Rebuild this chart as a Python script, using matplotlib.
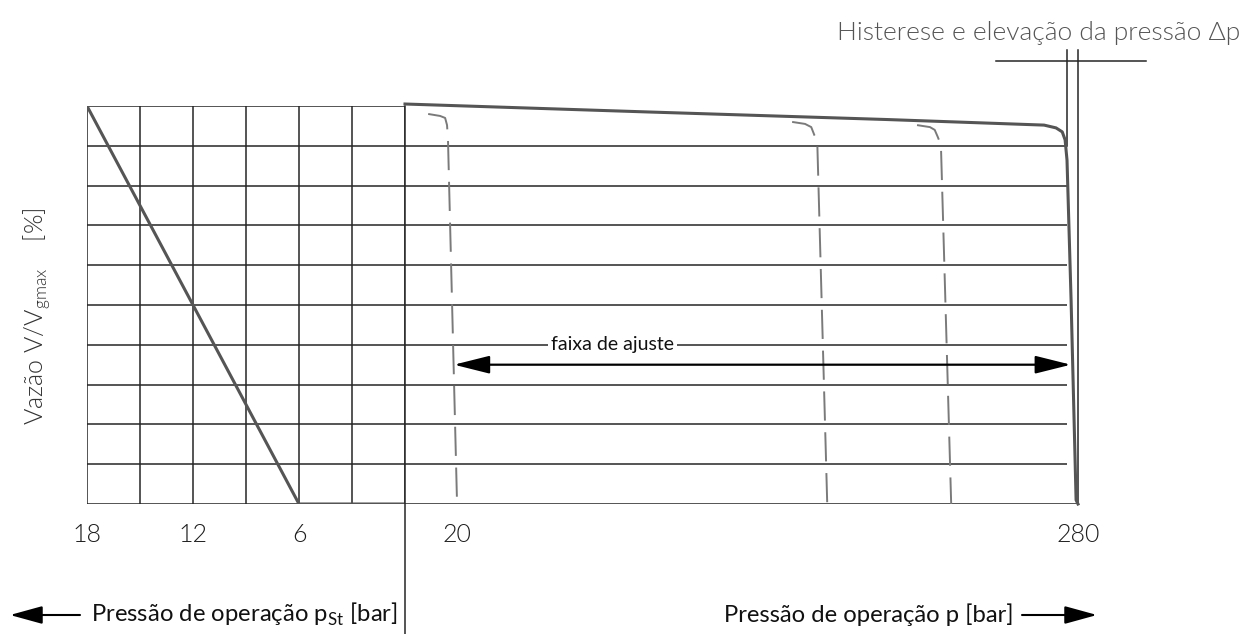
import matplotlib
matplotlib.use("Agg")
import matplotlib.pyplot as plt
from matplotlib.patches import FancyArrowPatch

plt.rcParams["font.family"] = ["Lato", "DejaVu Sans"]

# === Data ===
# left part: control pressure p_St [bar] vs flow [%]
pst_vals = [18, 6, 0]
pst_flow = [100, 0, 0]
pst_grid = [18, 15, 12, 9, 6, 3, 0]
pst_labels = ["18", "", "12", "", "6", "", ""]

# right part: operating pressure p [bar] vs flow [%]
p_curve = [-1.8, 100, 200, 265.8, 270.8, 273.4, 274.6, 275.4, 277.1, 279.2, 280]
flow_curve = [100.5, 98.5, 96.6, 95.2, 94.5, 93.5, 91.5, 86.4, 51.3, 1, 0]

dash1_p = [7.9, 12.9, 15.0, 15.8, 16.2, 20]
dash1_f = [98.0, 97.5, 97.0, 95.2, 91.5, 0]
dash2_p = [160.3, 165.7, 168.3, 169.6, 170.8, 175]
dash2_f = [96.0, 95.5, 94.7, 92.7, 91.5, 0]
dash3_p = [212.6, 218.0, 220.0, 221.3, 222.6, 226.9]
dash3_f = [95.2, 94.7, 94.0, 92.2, 90.2, 0]

p_ticks = [20, 280]
p_labels = ["20", "280"]
flow_levels = [0, 10, 20, 30, 40, 50, 60, 70, 80, 90, 100]

range_p = [18.7, 277]   # faixa de ajuste
range_flow = 35
hyst_p = [275.4, 280]

GRID = "#262626"
CURVE = "#555555"
DASH = "#7a7a7a"
TXT = "#1e1e1e"
LIGHT = 300

W, H = 1252, 634
fig = plt.figure(figsize=(W / 100, H / 100), dpi=100)

# === Left panel ===
axl = fig.add_axes([87 / W, (H - 504) / H, 318 / W, 398 / H])
axl.set_xlim(18, 0)
axl.set_ylim(0, 100)
for v in pst_grid:
    axl.axvline(v, color=GRID, lw=1.1, zorder=1)
for f in flow_levels:
    axl.axhline(f, color=GRID, lw=1.1, zorder=1)
axl.plot(pst_vals, pst_flow, color=CURVE, lw=2.2, zorder=3, solid_capstyle="butt")
axl.set_xticks(pst_grid)
axl.set_xticklabels(pst_labels, fontsize=18, color=TXT, fontweight=LIGHT)
axl.set_yticks([])
axl.tick_params(axis="x", length=0, pad=14)
for s in axl.spines.values():
    s.set_visible(False)

# === Right panel ===
p_lo, p_hi = -1.8, 280
axr = fig.add_axes([405 / W, (H - 504) / H, 673 / W, 398 / H])
axr.set_xlim(p_lo, p_hi)
axr.set_ylim(0, 100)
for s in axr.spines.values():
    s.set_visible(False)
axr.hlines(flow_levels[1:-1], p_lo, hyst_p[0], color=GRID, lw=1.1, zorder=1)
axr.hlines(0, p_lo, p_hi, color=GRID, lw=1.1, zorder=1)
# divider line between both scales
axr.plot([p_lo, p_lo], [100, -32.7], color=GRID, lw=1.1, clip_on=False, zorder=2)

axr.plot(p_curve, flow_curve, color=CURVE, lw=2.2, clip_on=False, zorder=3)
for xs, ys in [(dash1_p, dash1_f), (dash2_p, dash2_f), (dash3_p, dash3_f)]:
    axr.plot(xs, ys, color=DASH, lw=1.4, dashes=(15, 6), zorder=3)

# hysteresis marks
axr.plot([hyst_p[0], hyst_p[0]], [114, 90], color=GRID, lw=1.1, clip_on=False)
axr.plot([hyst_p[1], hyst_p[1]], [114, 0], color=GRID, lw=1.1, clip_on=False)
axr.plot([245.7, 308.5], [111.3, 111.3], color=GRID, lw=1.1, clip_on=False)

axr.annotate("", xy=(range_p[0], range_flow), xytext=(range_p[1], range_flow),
             arrowprops=dict(arrowstyle="<|-|>,head_length=2.2,head_width=0.55",
                             color="black", lw=1.6, shrinkA=0, shrinkB=0))
axr.text(85, 40, "faixa de ajuste", ha="center", va="center", fontsize=14,
         color="#111111", bbox=dict(facecolor="white", edgecolor="none", pad=2))

axr.set_xticks(p_ticks)
axr.set_xticklabels(p_labels, fontsize=18, color=TXT, fontweight=LIGHT)
axr.set_yticks([])
axr.tick_params(axis="x", length=0, pad=14)

# === Texts ===
fig.text(37 / W, (H - 316) / H, r"Vazão V/V$_{\mathregular{gmax}}$    [%]",
         rotation=90, ha="center", va="center", fontsize=18, color="#333333",
         fontweight=LIGHT)
fig.text(1240 / W, (H - 40) / H, "Histerese e elevação da pressão Δp",
         ha="right", va="baseline", fontsize=19, color="#555555", fontweight=LIGHT)
fig.text(91 / W, 12 / H, r"Pressão de operação p$_{\mathregular{St}}$ [bar]",
         ha="left", va="baseline", fontsize=17.2, color="#111111")
fig.text(1013 / W, 12 / H, "Pressão de operação p [bar]",
         ha="right", va="baseline", fontsize=17.2, color="#111111")

arrow_style = dict(arrowstyle="-|>,head_length=2.0,head_width=0.55", color="black",
                   lw=1.5, shrinkA=0, shrinkB=0, mutation_scale=10)
fig.add_artist(FancyArrowPatch((80 / W, 19 / H), (10 / W, 19 / H),
               transform=fig.transFigure, **arrow_style))
fig.add_artist(FancyArrowPatch((1022 / W, 19 / H), (1097 / W, 19 / H),
               transform=fig.transFigure, **arrow_style))

fig.savefig("out.png", dpi=100)
